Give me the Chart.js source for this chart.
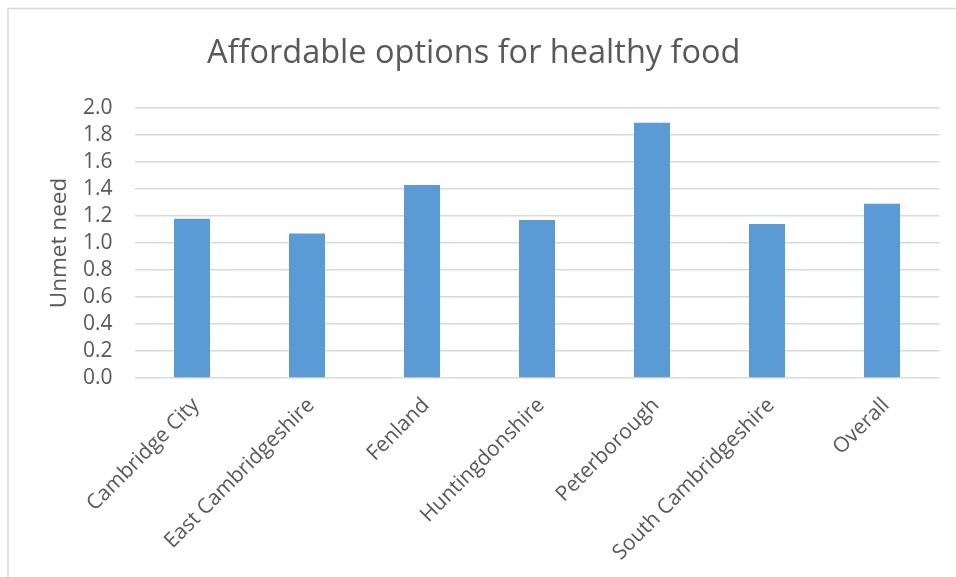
<!DOCTYPE html>
<html>
<head>
<meta charset="utf-8">
<title>Affordable options for healthy food</title>
<script src="https://cdn.jsdelivr.net/npm/chart.js@4/dist/chart.umd.min.js"></script>
<style>
  html, body { margin: 0; padding: 0; background: #ffffff; }
  #wrap { width: 956px; height: 577px; }
</style>
</head>
<body>
<div id="wrap"><canvas id="chart" width="956" height="577"></canvas></div>
<script>
// Districts and the unmet-need score for each
const categories = [
  'Cambridge City',
  'East Cambridgeshire',
  'Fenland',
  'Huntingdonshire',
  'Peterborough',
  'South Cambridgeshire',
  'Overall'
];
const unmetNeed = [1.18, 1.07, 1.43, 1.17, 1.89, 1.14, 1.29];

const chartTitle = 'Affordable options for healthy food';
const yAxisTitle = 'Unmet need';
const yMin = 0;
const yMax = 2.0;
const yStep = 0.2;

const textGrey = '#595959';
const gridGrey = '#d9d9d9';
const barBlue = '#5b9bd5';
const fontFamily = '"Open Sans", "Segoe UI", sans-serif';

// Light frame around the whole chart
const framePlugin = {
  id: 'frame',
  beforeDraw(chart) {
    const ctx = chart.ctx;
    ctx.save();
    ctx.fillStyle = '#ffffff';
    ctx.fillRect(0, 0, chart.width, chart.height);
    ctx.strokeStyle = gridGrey;
    ctx.lineWidth = 1.5;
    ctx.strokeRect(8, 8.5, chart.width + 20, chart.height + 20);
    ctx.restore();
  }
};

new Chart(document.getElementById('chart'), {
  type: 'bar',
  data: {
    labels: categories,
    datasets: [{
      label: yAxisTitle,
      data: unmetNeed,
      backgroundColor: barBlue,
      borderWidth: 0,
      categoryPercentage: 1.0,
      barPercentage: 0.313
    }]
  },
  options: {
    responsive: false,
    animation: false,
    layout: { padding: { left: 8, right: 16.5, top: 20, bottom: 0 } },
    plugins: {
      legend: { display: false },
      tooltip: { enabled: false },
      title: {
        display: true,
        text: chartTitle,
        color: textGrey,
        font: { family: fontFamily, size: 32.5, weight: 'normal', lineHeight: 1.2 },
        padding: { top: 14.5, bottom: 34.5 }
      }
    },
    scales: {
      x: {
        grid: { display: false, drawTicks: false },
        border: { display: false },
        ticks: {
          color: textGrey,
          font: { family: fontFamily, size: 21 },
          minRotation: 45,
          maxRotation: 45,
          autoSkip: false,
          labelOffset: 4,
          padding: 15
        },
        afterFit(scale) { scale.height = 199; }
      },
      y: {
        min: yMin,
        max: yMax,
        grid: { color: gridGrey, lineWidth: 1.5, drawTicks: false },
        border: { display: false },
        ticks: {
          stepSize: yStep,
          autoSkip: false,
          color: textGrey,
          font: { family: fontFamily, size: 21, lineHeight: 1.0 },
          padding: 22,
          callback: (v) => Number(v).toFixed(1)
        },
        title: {
          display: true,
          text: yAxisTitle,
          color: textGrey,
          font: { family: fontFamily, size: 22.5, weight: 'normal', lineHeight: 1.2 },
          padding: { top: 38.5, bottom: 0 }
        },
        afterFit(scale) { scale.width = 126.5; }
      }
    }
  },
  plugins: [framePlugin]
});
</script>
</body>
</html>
